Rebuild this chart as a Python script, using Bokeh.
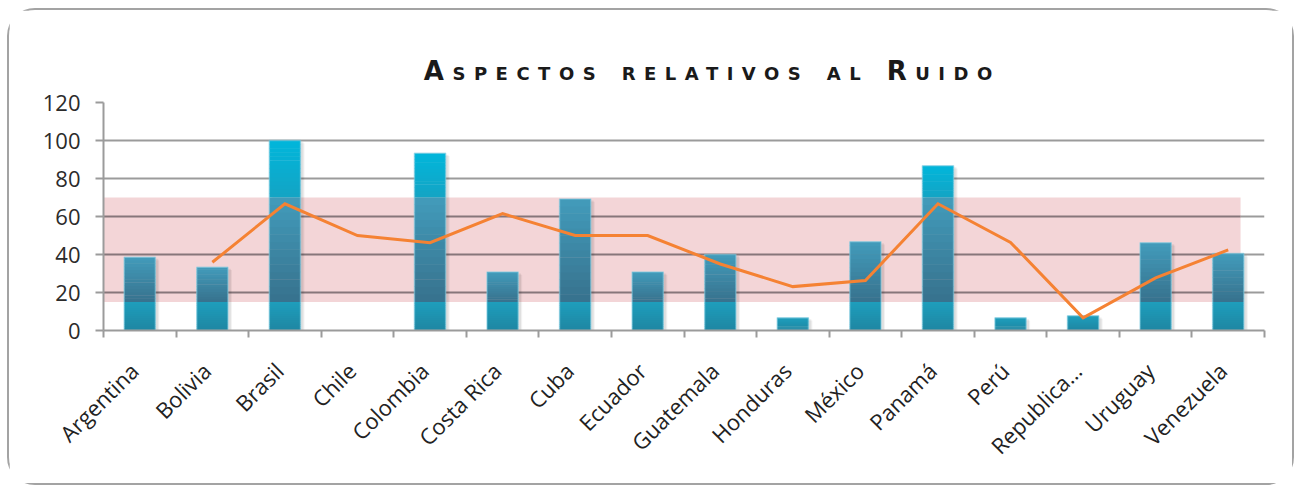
import math
from bokeh.plotting import figure
from bokeh.models import Range1d, FixedTicker
from bokeh.layouts import column
from bokeh.core.properties import value
from bokeh.embed import file_html
from bokeh.resources import INLINE

NAN = float("nan")

titulo = "Aspectos relativos al Ruido"
paises = ["Argentina", "Bolivia", "Brasil", "Chile", "Colombia", "Costa Rica",
          "Cuba", "Ecuador", "Guatemala", "Honduras", "México", "Panamá",
          "Perú", "Republica…", "Uruguay", "Venezuela"]
# bar series (%)
valores = [38.5, 33.3, 100, 0, 93.3, 30.8, 69.2, 30.8, 40, 6.7, 46.7, 86.7,
           6.7, 7.7, 46.2, 40.5]
# line series (%), no value for Argentina
promedio = [NAN, 35.9, 66.7, 50, 46.2, 61.5, 50, 50, 35, 23.1, 26.3, 66.7,
            46.4, 6.7, 27.7, 42.4]
# reference band
banda_inf = 15
banda_sup = 70
y_ticks = [0, 20, 40, 60, 80, 100, 120]

n = len(paises)
xs = list(range(n))

GRIS = "#9B9B9B"


def hex2rgb(h):
    h = h.lstrip("#")
    return tuple(int(h[i:i + 2], 16) for i in (0, 2, 4))


def mezcla(c1, c2, t):
    a, b = hex2rgb(c1), hex2rgb(c2)
    return "#%02x%02x%02x" % tuple(round(a[i] + (b[i] - a[i]) * t) for i in range(3))


# ---------------------------------------------------------------- main chart
p = figure(width=1283, height=397, x_range=Range1d(-0.5, n - 0.5),
           y_range=Range1d(0, 120), toolbar_location=None, title=None,
           output_backend="svg", min_border_left=94, min_border_right=28,
           min_border_top=16, min_border_bottom=153)
p.outline_line_color = None
p.background_fill_color = "white"
p.border_fill_color = "white"

# reference band and its darker gridlines
p.quad(left=-0.5, right=n - 0.83, bottom=banda_inf, top=banda_sup,
       fill_color="#F3D5D7", line_color=None)
en_banda = [t for t in y_ticks if banda_inf <= t <= banda_sup and t > 0]
p.segment(x0=[-0.5] * len(en_banda), x1=[n - 0.83] * len(en_banda),
          y0=en_banda, y1=en_banda, line_color="#86767A", line_width=2)

# soft shadows behind the bars
con_barra = [i for i in xs if valores[i] > 0]
p.vbar(x=[i + 0.035 for i in con_barra], width=0.44,
       top=[valores[i] - 0.8 for i in con_barra], bottom=0,
       fill_color="black", fill_alpha=0.07, line_color=None)
p.vbar(x=[i + 0.05 for i in con_barra], width=0.44,
       top=[valores[i] - 1.5 for i in con_barra], bottom=0,
       fill_color="black", fill_alpha=0.05, line_color=None)

# bars with a vertical gradient in each zone
zonas = [(0, banda_inf, "#1F86A2", "#1E9EBC"),
         (banda_inf, banda_sup, "#37728D", "#429BBB"),
         (banda_sup, 1e9, "#14A4C4", "#00B6DB")]
sx, sb, st, sc = [], [], [], []
pasos = 14
for i, v in enumerate(valores):
    for lo, hi, c_bajo, c_alto in zonas:
        tope = min(v, hi)
        if tope <= lo:
            continue
        for k in range(pasos):
            b = lo + (tope - lo) * k / pasos
            t = lo + (tope - lo) * (k + 1) / pasos
            if k < pasos - 1:
                t += 0.25
            sx.append(i)
            sb.append(b)
            st.append(t)
            sc.append(mezcla(c_bajo, c_alto, (k + 0.5) / pasos))
p.vbar(x=sx, width=0.43, bottom=sb, top=st, fill_color=sc, line_color=None)
# light rim on the bars
p.vbar(x=[i for i in con_barra], width=0.43, bottom=0,
       top=[valores[i] for i in con_barra], fill_color=None,
       line_color="#7CCBE0", line_alpha=0.55, line_width=1.5)

# line series
p.line(x=xs, y=promedio, line_color="#F58233", line_width=3,
       line_join="miter")

# axes and grid
p.ygrid.ticker = FixedTicker(ticks=y_ticks)
p.ygrid.grid_line_color = GRIS
p.ygrid.grid_line_width = 2
p.xgrid.visible = False

p.yaxis.ticker = FixedTicker(ticks=y_ticks)
p.yaxis.axis_line_color = GRIS
p.yaxis.axis_line_width = 2
p.yaxis.major_tick_line_color = GRIS
p.yaxis.major_tick_line_width = 2
p.yaxis.major_tick_out = 8
p.yaxis.major_tick_in = 0
p.yaxis.minor_tick_line_color = None
p.yaxis.major_label_text_font = "Open Sans"
p.yaxis.major_label_text_font_size = "22px"
p.yaxis.major_label_text_color = "#2B2B2B"
p.yaxis.major_label_standoff = 15

# category labels sit a little left of the bar centres
desplaz = 0.08
etiq_ticks = [i - desplaz for i in xs]
p.xaxis.ticker = FixedTicker(ticks=etiq_ticks,
                             minor_ticks=[i - 0.5 for i in range(n + 1)])
p.xaxis.major_label_overrides = {tk: nombre for tk, nombre in zip(etiq_ticks, paises)}
p.xaxis.axis_line_color = GRIS
p.xaxis.axis_line_width = 2
p.xaxis.major_tick_line_color = None
p.xaxis.minor_tick_line_color = GRIS
p.xaxis.minor_tick_line_width = 2
p.xaxis.minor_tick_out = 7
p.xaxis.minor_tick_in = 0
p.xaxis.major_label_orientation = math.pi / 4
p.xaxis.major_label_text_font = "Open Sans"
p.xaxis.major_label_text_font_size = "22px"
p.xaxis.major_label_text_color = "#222222"
p.xaxis.major_label_standoff = 29

# ---------------------------------------------------------------- title strip
t = figure(width=1283, height=76, x_range=Range1d(0, 1283), y_range=Range1d(0, 76),
           toolbar_location=None, output_backend="svg", min_border=0, title=None,
           x_axis_location=None, y_axis_location=None)
t.grid.visible = False
t.outline_line_color = None
t.text(x=[354], y=[16], text=[titulo], text_font=value("DejaVu Sans"),
       text_font_size="26px", text_font_style="bold", text_align="left",
       text_baseline="alphabetic", text_color="#1A1A1A")
t.styles = {"font-variant": "small-caps", "letter-spacing": "8.5px"}

layout = column(t, p, margin=(10, 0, 0, 9),
                styles={"outline": "2px solid #A3A3A3", "border-radius": "26px"})

open("out.html", "w").write(file_html(layout, INLINE))
